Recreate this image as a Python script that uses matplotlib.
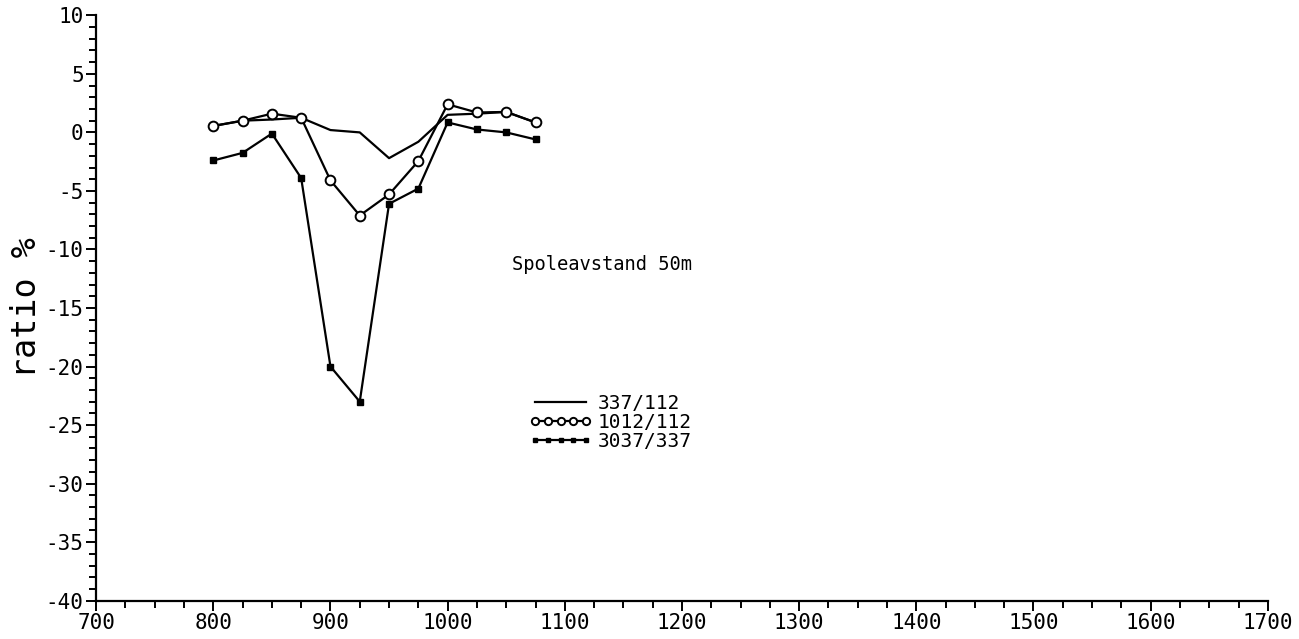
import matplotlib
matplotlib.use("Agg")
import matplotlib.pyplot as plt
from matplotlib.ticker import MultipleLocator

plt.rcParams['font.family'] = ['DejaVu Sans Mono']
plt.rcParams['axes.unicode_minus'] = False

# Coil positions (m) and measured ratios (%)
pos = [800, 825, 850, 875, 900, 925, 950, 975, 1000, 1025, 1050, 1075]
r_337_112 = [0.55, 1.0, 1.1, 1.25, 0.2, 0.0, -2.2, -0.8, 1.5, 1.6, 1.75, 0.85]
r_1012_112 = [0.55, 1.0, 1.6, 1.25, -4.1, -7.1, -5.3, -2.45, 2.4, 1.7, 1.75, 0.85]
r_3037_337 = [-2.4, -1.75, -0.1, -3.9, -20.0, -23.0, -6.1, -4.8, 0.85, 0.25, 0.0, -0.6]

labels = ["337/112", "1012/112", "3037/337"]
title = "Spoleavstand 50m"

fig = plt.figure(figsize=(12.99, 6.39), dpi=100)
ax = fig.add_axes([0.074, 0.06, 0.902, 0.916])

lw = 1.6
ax.plot(pos, r_337_112, color='black', lw=lw, label=labels[0])
ax.plot(pos, r_1012_112, color='black', lw=lw, marker='o', ms=7,
        mfc='white', mec='black', mew=1.4, label=labels[1])
ax.plot(pos, r_3037_337, color='black', lw=lw, marker='s', ms=4.5,
        mfc='black', mec='black', label=labels[2])

ax.set_xlim(700, 1700)
ax.set_ylim(-40, 10)
ax.xaxis.set_major_locator(MultipleLocator(100))
ax.xaxis.set_minor_locator(MultipleLocator(25))
ax.yaxis.set_major_locator(MultipleLocator(5))
ax.yaxis.set_minor_locator(MultipleLocator(1))

for s in ['top', 'right']:
    ax.spines[s].set_visible(False)
for s in ['left', 'bottom']:
    ax.spines[s].set_linewidth(1.6)

ax.tick_params(which='major', direction='out', length=7, width=1.4,
               labelsize=15, pad=2)
ax.tick_params(which='minor', direction='out', length=5, width=1.4)

ax.set_ylabel("ratio %", fontsize=24, labelpad=2)

ax.text(1055, -11.3, title, fontsize=13.5, ha='left', va='center')
leg = ax.legend(loc='upper left', bbox_to_anchor=(0.370, 0.353), frameon=False,
                numpoints=5, handlelength=3.2, handletextpad=0.3,
                labelspacing=0.0, fontsize=14, borderpad=0, borderaxespad=0,
                markerscale=0.75)

fig.savefig("out.png", dpi=100)
